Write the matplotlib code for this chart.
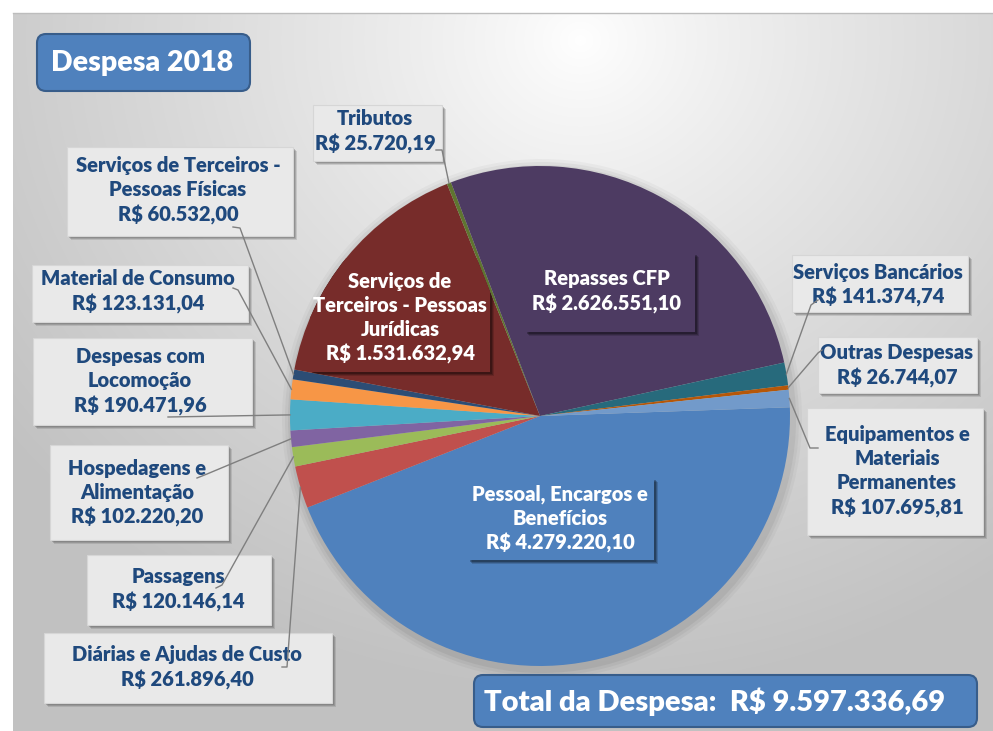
import matplotlib
matplotlib.use("Agg")
import matplotlib.pyplot as plt
import numpy as np
from matplotlib.patches import Rectangle, FancyBboxPatch

# dados da despesa 2018 (ordem das fatias do Excel)
categorias = ["Pessoal, Encargos e\nBenefícios", "Diárias e Ajudas de Custo", "Passagens",
              "Hospedagens e\nAlimentação", "Despesas com\nLocomoção", "Material de Consumo",
              "Serviços de Terceiros -\nPessoas Físicas", "Serviços de\nTerceiros - Pessoas\nJurídicas",
              "Tributos", "Repasses CFP", "Serviços Bancários", "Outras Despesas",
              "Equipamentos e\nMateriais\nPermanentes"]
valores = [4279220.10, 261896.40, 120146.14, 102220.20, 190471.96, 123131.04, 60532.00,
           1531632.94, 25720.19, 2626551.10, 141374.74, 26744.07, 107695.81]
cores = ["#4F81BD", "#C0504D", "#9BBB59", "#8064A2", "#4BACC6", "#F79646", "#2C4D75",
         "#772C2A", "#5F7530", "#4D3B62", "#276A7C", "#B65708", "#729ACA"]
titulo = "Despesa 2018"
total_txt = "Total da Despesa:  R$ 9.597.336,69"

W, H = 993, 731
AZUL_TXT = "#1F497D"
FONTE = "Lato"
PESO = "heavy"


def brl(v):
    s = f"{v:,.2f}"
    return s.replace(",", "X").replace(".", ",").replace("X", ".")


def Y(y):
    return H - y


fig = plt.figure(figsize=(W / 100, H / 100), dpi=100)
ax = fig.add_axes([0, 0, 1, 1])
ax.set_xlim(0, W)
ax.set_ylim(0, H)
ax.axis("off")

# fundo com degrade radial
xx, yy = np.meshgrid(np.arange(13, W), np.arange(13, H))
d = np.sqrt(((xx - 580) / 1.0) ** 2 + ((yy - 40) / 0.9) ** 2)
g = 1.0 - 0.24 * np.clip(d / 720, 0, 1) ** 0.85
img = np.dstack([g, g, g])
ax.imshow(img, extent=(13, W, Y(H), Y(13)), origin="upper", zorder=0, aspect="auto")
ax.plot([13, W], [Y(13), Y(13)], color="#bdbdbd", lw=1, zorder=1)

# pizza
cx, cy, r = 540, 416, 250
for k, al in ((10, 0.03), (7, 0.04), (4, 0.05)):
    ax.add_patch(plt.Circle((cx + 2, Y(cy) - 3), r + k, color="black", alpha=al, lw=0, zorder=2))
wedges, _ = ax.pie(valores, colors=cores, startangle=2, counterclock=False,
                   center=(cx, Y(cy)), radius=r, frame=True,
                   wedgeprops=dict(linewidth=0, zorder=3))
ax.set_xlim(0, W)
ax.set_ylim(0, H)
ax.set_aspect("auto")
ax.axis("off")

# caixas dos rotulos (x0, y0, x1, y1) e centro do texto
caixas = [(468, 478, 654, 560), (44, 633, 332, 703), (87, 555, 271, 625), (50, 445, 228, 540),
          (33, 338, 252, 425), (32, 265, 248, 322), (67, 147, 293, 236), (310, 258, 490, 372),
          (313, 105, 442, 161), (525, 253, 695, 332), (792, 255, 968, 312), (818, 337, 977, 393),
          (807, 408, 983, 535)]
centros = [(560, 518.5), (187, 667.5), (178, 589.5), (137, 493), (140, 381.5), (138, 291.5),
           (178, 190.5), (400, 318), (375, 131.5), (607, 291.5), (878, 285), (897, 365.5),
           (897, 471.5)]
internos = {0, 7, 9}
# pontos de partida das linhas de chamada
chamadas = {1: [(282, 667), (287, 667)], 2: [(216, 588), (222, 585)],
            3: [(197, 478), (207, 474)], 4: [(168, 417)], 5: [(233, 288), (238, 290)],
            6: [(233, 227), (240, 228)], 8: [(436, 150), (442, 150)],
            10: [(818, 300), (811, 305)], 11: [(822, 350), (818, 353)],
            12: [(818, 448), (810, 448)]}

for i, w in enumerate(wedges):
    x0, y0, x1, y1 = caixas[i]
    tx, ty = centros[i]
    texto = categorias[i] + "\nR$ " + brl(valores[i])
    if i in internos:
        sombras = []
        for k, al in ((4, 0.15), (3, 0.2), (2, 0.25)):
            sombras.append(Rectangle((x0 + k, Y(y1) - k), x1 - x0, y1 - y0,
                                     facecolor="black", alpha=al, lw=0, zorder=4))
        bx = Rectangle((x0, Y(y1)), x1 - x0, y1 - y0, facecolor=cores[i], lw=0, zorder=5)
        t = ax.text(tx, Y(ty), texto, ha="center", va="center", multialignment="center",
                    color="white", fontsize=14.5, fontweight=PESO, family=FONTE,
                    linespacing=1.32, zorder=6)
        for a in sombras + [bx]:
            ax.add_patch(a)
            a.set_clip_path(w)
        t.set_clip_path(w)
    else:
        for k, al in ((4, 0.18), (3, 0.25), (2, 0.3)):
            ax.add_patch(Rectangle((x0 + k, Y(y1) - k), x1 - x0, y1 - y0,
                                   facecolor="#555555", alpha=al, lw=0, zorder=4))
        ax.add_patch(Rectangle((x0, Y(y1)), x1 - x0, y1 - y0, facecolor="#e9e9e9",
                               edgecolor="#d6d6d6", lw=0.8, zorder=5))
        ax.text(tx, Y(ty), texto, ha="center", va="center", multialignment="center",
                color=AZUL_TXT, fontsize=14.5, fontweight=PESO, family=FONTE,
                linespacing=1.32, zorder=6)
    if i in chamadas:
        th = np.deg2rad((w.theta1 + w.theta2) / 2)
        px = [p[0] for p in chamadas[i]] + [cx + r * np.cos(th)]
        py = [Y(p[1]) for p in chamadas[i]] + [Y(cy) + r * np.sin(th)]
        ax.plot(px, py, color="#7f7f7f", lw=1, zorder=7)

# titulo e total
ax.add_patch(FancyBboxPatch((37, Y(91)), 213, 57, boxstyle="round,pad=0,rounding_size=9",
                            facecolor="#4F81BD", edgecolor="#385D8A", lw=1.5, zorder=5))
ax.text(142, Y(63), titulo, ha="center", va="center", color="white", fontsize=20.5,
        fontweight=PESO, family=FONTE, zorder=6)
ax.add_patch(FancyBboxPatch((474, Y(727)), 503, 52, boxstyle="round,pad=0,rounding_size=9",
                            facecolor="#4F81BD", edgecolor="#385D8A", lw=1.5, zorder=5))
ax.text(715, Y(702), total_txt, ha="center", va="center", color="white", fontsize=21,
        fontweight=PESO, family=FONTE, zorder=6)

fig.savefig("out.png", dpi=100)
